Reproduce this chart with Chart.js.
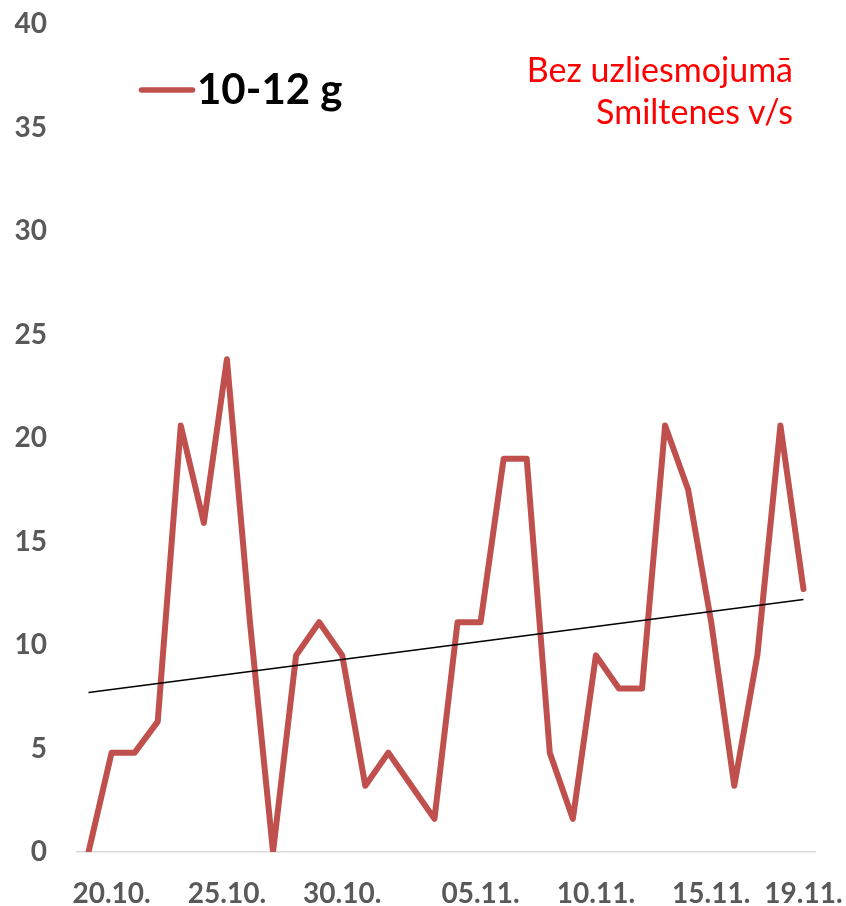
<!DOCTYPE html>
<html>
<head>
<meta charset="utf-8">
<script src="https://cdn.jsdelivr.net/npm/chart.js@4.4.1/dist/chart.umd.min.js"></script>
<style>
  html, body { margin: 0; padding: 0; background: #ffffff; }
  #wrap { position: relative; width: 846px; height: 906px; }
  #note {
    position: absolute; right: 53px; top: 48px;
    font-family: Lato, "Open Sans", sans-serif; font-size: 34px; line-height: 42px;
    color: #FF0000; text-align: right; white-space: nowrap;
  }
</style>
</head>
<body>
<div id="wrap">
  <canvas id="c" width="846" height="906"></canvas>
  <div id="note">Bez uzliesmojumā<br>Smiltenes v/s</div>
</div>
<script>
// ---- data ----
const dates = ['19.10.', '20.10.', '21.10.', '22.10.', '23.10.', '24.10.', '25.10.', '26.10.',
  '27.10.', '28.10.', '29.10.', '30.10.', '31.10.', '01.11.', '02.11.', '03.11.',
  '04.11.', '05.11.', '06.11.', '07.11.', '08.11.', '09.11.', '10.11.', '11.11.',
  '12.11.', '13.11.', '14.11.', '15.11.', '16.11.', '17.11.', '18.11.', '19.11.'];
const shownDates = ['20.10.', '25.10.', '30.10.', '05.11.', '10.11.', '15.11.', '19.11.'];
const values = [0, 4.8, 4.8, 6.3, 20.6, 15.9, 23.8, 11.1, 0, 9.5, 11.1, 9.5, 3.2, 4.8, 3.2, 1.6,
  11.1, 11.1, 19.0, 19.0, 4.8, 1.6, 9.5, 7.9, 7.9, 20.6, 17.5, 11.1, 3.2, 9.5, 20.6, 12.7];
const trendStart = 7.7;
const trendEnd = 12.2;
const seriesName = '10-12 g';

const trendData = dates.map((d, i) => i === 0 ? trendStart : (i === dates.length - 1 ? trendEnd : null));

// legend marker: a line drawn on a small canvas
const RED = '#C0504D';
const mk = document.createElement('canvas');
mk.width = 100; mk.height = 12;
(function () {
  const g = mk.getContext('2d');
  g.strokeStyle = RED; g.lineWidth = 5.5; g.lineCap = 'round';
  g.beginPath(); g.moveTo(30.5, 6); g.lineTo(81.5, 6); g.stroke();
})();

const tickFont = { family: 'Lato', size: 28, weight: 'bold' };
const noPad = (s) => { s.paddingTop = 0; s.paddingBottom = 0; s.paddingLeft = 0; s.paddingRight = 0; };

new Chart(document.getElementById('c'), {
  type: 'line',
  data: {
    labels: dates,
    datasets: [
      {
        label: 'trend', data: trendData, spanGaps: true, order: 0,
        borderColor: '#000000', borderWidth: 1.5, pointRadius: 0, fill: false, tension: 0
      },
      {
        label: seriesName, data: values, order: 1,
        borderColor: RED, backgroundColor: RED, borderWidth: 6, pointRadius: 0,
        borderJoinStyle: 'round', borderCapStyle: 'round', fill: false, tension: 0
      }
    ]
  },
  options: {
    responsive: false,
    animation: false,
    devicePixelRatio: 1,
    layout: { padding: { left: 0, right: 31, top: 24, bottom: 0 } },
    plugins: {
      tooltip: { enabled: false },
      title: { display: false },
      legend: {
        position: 'chartArea',
        align: 'start',
        labels: {
          filter: (item) => item.text === seriesName,
          usePointStyle: true,
          pointStyle: mk,
          pointStyleWidth: 30,
          padding: 69,
          color: '#000000',
          font: { family: 'Lato', size: 42, weight: 'bold' }
        }
      }
    },
    scales: {
      x: {
        offset: true,
        grid: { display: false, drawTicks: false },
        border: { display: true, color: '#D9D9D9', width: 1.5 },
        ticks: {
          autoSkip: false, maxRotation: 0, minRotation: 0,
          padding: 25, color: '#595959', font: tickFont,
          callback: function (v, i) { return shownDates.includes(dates[i]) ? dates[i] : ''; }
        },
        afterFit: (s) => { s.height = 54; noPad(s); }
      },
      y: {
        min: 0, max: 40,
        grid: { display: false, drawTicks: false },
        border: { display: false },
        ticks: { stepSize: 5, padding: 30, color: '#595959', font: tickFont },
        afterFit: (s) => { s.width = 77; noPad(s); }
      }
    }
  }
});
</script>
</body>
</html>
